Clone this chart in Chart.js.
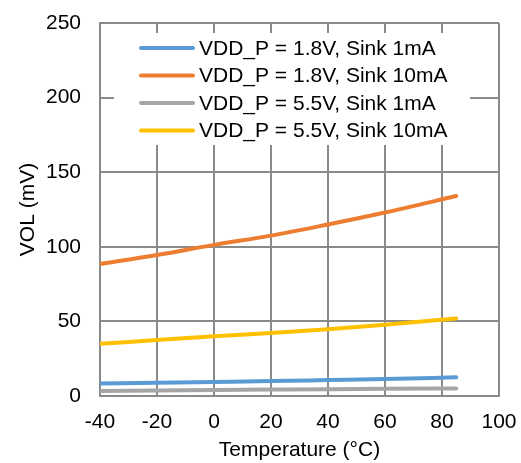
<!DOCTYPE html>
<html>
<head>
<meta charset="utf-8">
<script src="https://cdn.jsdelivr.net/npm/chart.js@4"></script>
<style>
  html, body { margin: 0; padding: 0; background: #fff; }
  #wrap { width: 521px; height: 463px; }
</style>
</head>
<body>
<div id="wrap"><canvas id="volChart" width="521" height="463"></canvas></div>
<script>
const temps = [-40, -20, 0, 20, 40, 60, 85];

const vol18_1mA  = [8.3, 8.8, 9.4, 10.0, 10.7, 11.4, 12.5];
const vol18_10mA = [88.5, 94.5, 101.3, 107.5, 115, 123, 134];
const vol55_1mA  = [3.4, 3.7, 4.0, 4.3, 4.6, 4.8, 5.1];
const vol55_10mA = [35, 37.5, 40, 42.2, 44.8, 47.8, 52];

const seriesLabels = [
    'VDD_P = 1.8V, Sink 1mA',
    'VDD_P = 1.8V, Sink 10mA',
    'VDD_P = 5.5V, Sink 1mA',
    'VDD_P = 5.5V, Sink 10mA'
];
const seriesColors = ['#5B9BD5', '#ED7D31', '#A5A5A5', '#FFC000'];
const seriesValues = [vol18_1mA, vol18_10mA, vol55_1mA, vol55_10mA];

const xTicks = [-40, -20, 0, 20, 40, 60, 80, 100];
const yTicks = [0, 50, 100, 150, 200, 250];

const FONT = 'Liberation Sans, Arial, sans-serif';
const FSIZE = 21;
const gridColor = '#8a8a8a';

// legend drawn inside the plot, white box covering grid lines
const boxLegend = {
    id: 'boxLegend',
    afterDatasetsDraw(chart) {
        const ctx = chart.ctx;
        const x0 = 114, y0 = 33, w = 356, h = 112;
        ctx.save();
        ctx.fillStyle = '#fff';
        ctx.fillRect(x0, y0, w, h);
        ctx.font = FSIZE + 'px ' + FONT;
        ctx.textBaseline = 'middle';
        ctx.lineCap = 'round';
        chart.data.datasets.forEach((ds, i) => {
            const y = 48 + i * 27.5;
            ctx.strokeStyle = ds.borderColor;
            ctx.lineWidth = 4;
            ctx.beginPath();
            ctx.moveTo(141, y);
            ctx.lineTo(193, y);
            ctx.stroke();
            ctx.fillStyle = '#000';
            ctx.fillText(ds.label, 199, y + 1);
        });
        ctx.restore();
    }
};

// keep the plot box where the layout padding puts it (no label overflow padding)
function noOverflow(s) {
    s.paddingTop = 0; s.paddingBottom = 0;
    s.paddingLeft = 0; s.paddingRight = 0;
}

new Chart(document.getElementById('volChart'), {
    type: 'line',
    data: {
        datasets: seriesLabels.map((label, i) => ({
            label,
            data: temps.map((t, j) => ({ x: t, y: seriesValues[i][j] })),
            borderColor: seriesColors[i],
            backgroundColor: seriesColors[i],
            borderWidth: 4,
            pointRadius: 0,
            cubicInterpolationMode: 'monotone',
            borderCapStyle: 'round'
        }))
    },
    options: {
        responsive: false,
        animation: false,
        layout: { padding: { left: 0, top: 23, right: 22, bottom: 0 } },
        plugins: { legend: { display: false }, tooltip: { enabled: false } },
        scales: {
            x: {
                type: 'linear',
                min: -40, max: 100,
                afterBuildTicks: s => { s.ticks = xTicks.map(v => ({ value: v })); },
                afterFit: s => { s.height = 67; noOverflow(s); },
                grid: { color: gridColor, lineWidth: 2, drawTicks: false },
                border: { color: gridColor, width: 2 },
                ticks: { color: '#000', padding: 14, font: { family: FONT, size: FSIZE } },
                title: {
                    display: true, text: 'Temperature (°C)', color: '#000',
                    font: { family: FONT, size: FSIZE }, padding: { top: 0, bottom: 0 }
                }
            },
            y: {
                min: 0, max: 250,
                afterBuildTicks: s => { s.ticks = yTicks.map(v => ({ value: v })); },
                afterFit: s => { s.width = 100; noOverflow(s); },
                grid: { color: gridColor, lineWidth: 2, drawTicks: false },
                border: { color: gridColor, width: 2 },
                ticks: { color: '#000', padding: 19, font: { family: FONT, size: FSIZE } },
                title: {
                    display: true, text: 'VOL (mV)', color: '#000',
                    font: { family: FONT, size: FSIZE }, padding: { top: 16, bottom: 0 }
                }
            }
        }
    },
    plugins: [boxLegend]
});
</script>
</body>
</html>
